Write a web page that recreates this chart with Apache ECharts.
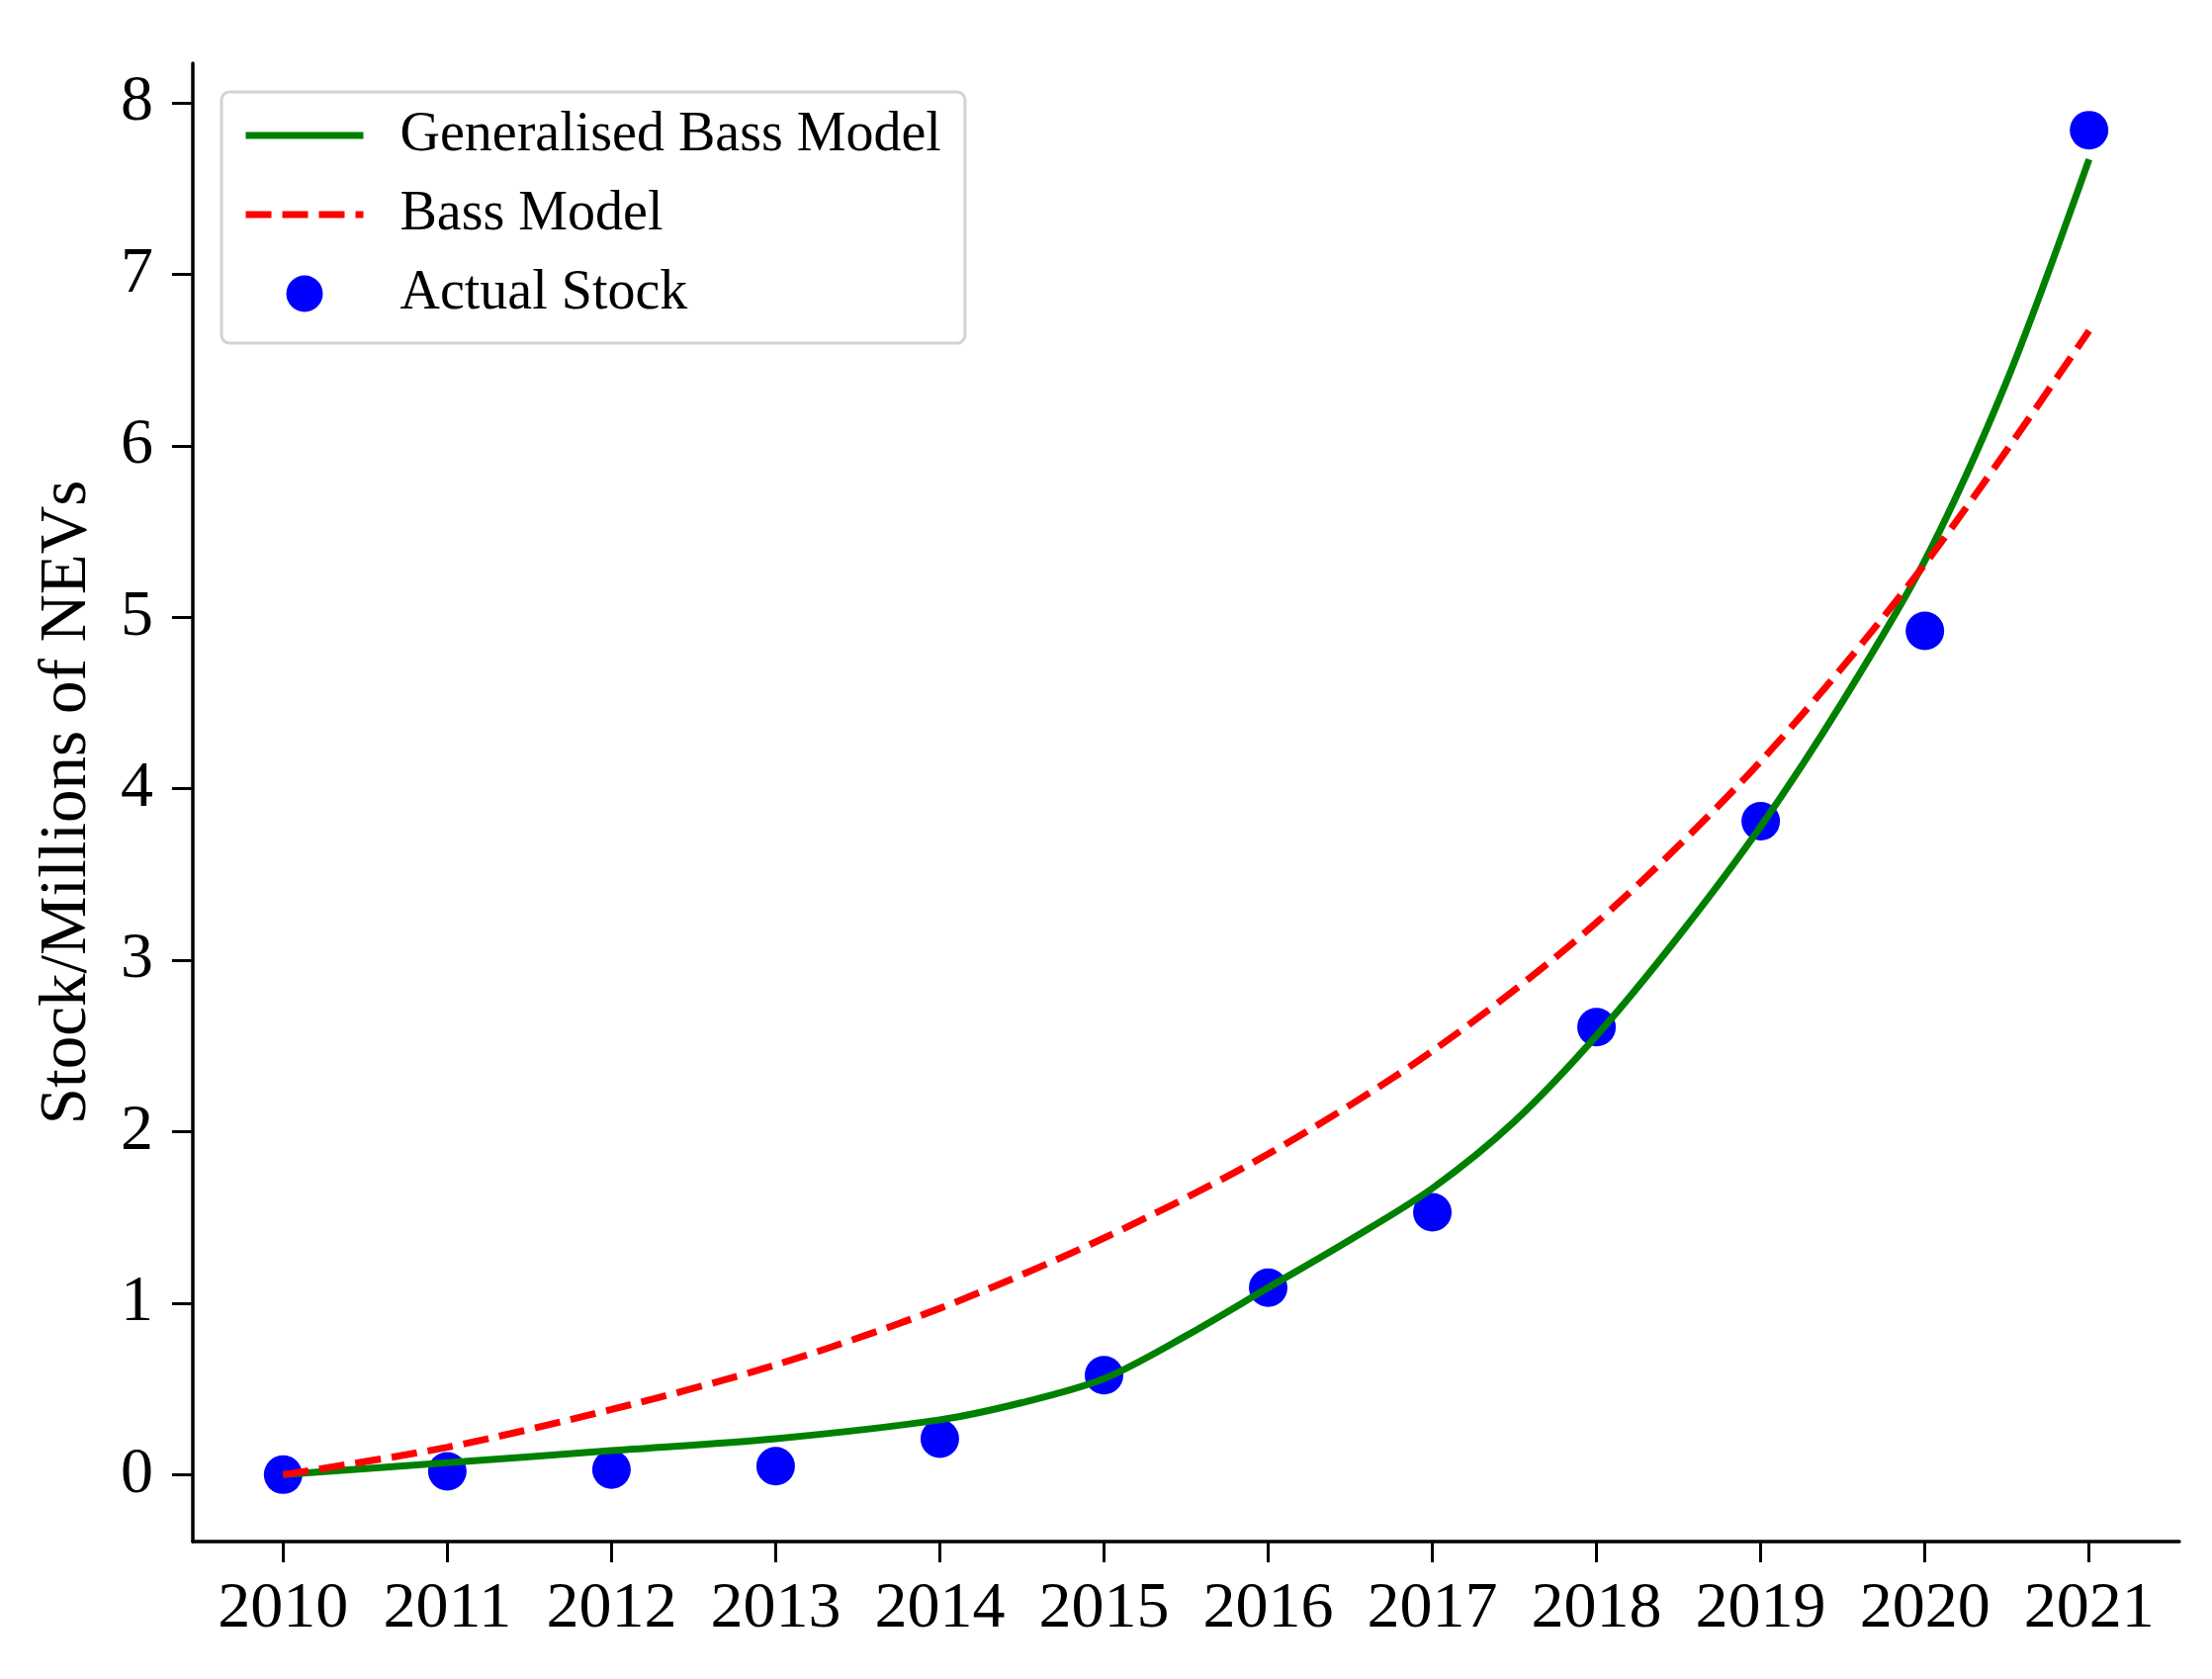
<!DOCTYPE html>
<html>
<head>
<meta charset="utf-8">
<script src="https://cdn.jsdelivr.net/npm/echarts@6/dist/echarts.min.js"></script>
<style>html,body{margin:0;padding:0;background:#fff}#c{width:2237px;height:1698px}</style>
</head>
<body>
<div id="c"></div>
<script>
// Data
const years = [2010, 2011, 2012, 2013, 2014, 2015, 2016, 2017, 2018, 2019, 2020, 2021];
const actualStock = [0.00, 0.02, 0.03, 0.05, 0.21, 0.58, 1.09, 1.53, 2.61, 3.81, 4.92, 7.84];
const bassModel = [0.00, 0.16, 0.38, 0.64, 0.97, 1.38, 1.87, 2.47, 3.22, 4.16, 5.31, 6.67];
const gbmYears = [2010, 2011, 2012, 2013, 2014, 2014.5, 2015, 2015.5, 2016, 2016.5, 2017, 2017.5, 2018, 2018.5, 2019, 2019.5, 2020, 2020.5, 2021];
const gbmModel = [0.00, 0.07, 0.14, 0.21, 0.32, 0.42, 0.56, 0.81, 1.09, 1.37, 1.67, 2.06, 2.56, 3.14, 3.78, 4.51, 5.33, 6.38, 7.67];
const yTicks = [0, 1, 2, 3, 4, 5, 6, 7, 8];
const seriesNames = ['Generalised Bass Model', 'Bass Model', 'Actual Stock'];
const yTitle = 'Stock/Millions of NEVs';

const zip = (xs, ys) => xs.map((x, i) => [x, ys[i]]);
const FONT = 'Liberation Serif';

const chart = echarts.init(document.getElementById('c'), null, {renderer: 'canvas'});
chart.setOption({
  backgroundColor: '#ffffff',
  animation: false,
  grid: {left: 195, right: 33, top: 64, bottom: 139, containLabel: false, outerBoundsMode: 'none'},
  legend: {
    data: [
      {name: seriesNames[0], itemStyle: {opacity: 0}, lineStyle: {width: 7, color: '#008000'}},
      {name: seriesNames[1], itemStyle: {opacity: 0}, lineStyle: {width: 7, color: '#ff0000', type: [26, 11]}},
      {name: seriesNames[2]}
    ],
    orient: 'vertical',
    left: 224,
    top: 93,
    padding: [16, 24, 22, 21],
    itemWidth: 119,
    itemHeight: 37,
    itemGap: 24,
    backgroundColor: '#ffffff',
    borderColor: '#d3d3d3',
    borderWidth: 3,
    borderRadius: 8,
    textStyle: {fontFamily: FONT, fontSize: 56, color: '#000', lineHeight: 56, padding: [0, 0, 0, 32]}
  },
  xAxis: {
    type: 'value',
    min: 2009.45,
    max: 2021.55,
    axisLine: {show: true, onZero: false, lineStyle: {color: '#000', width: 3.5}},
    axisTick: {show: true, length: 21, lineStyle: {color: '#000', width: 3}, customValues: years},
    axisLabel: {fontFamily: FONT, fontSize: 66, color: '#000', margin: 36, customValues: years, formatter: v => String(v)},
    splitLine: {show: false}
  },
  yAxis: {
    type: 'value',
    min: -0.39,
    max: 8.23,
    name: yTitle,
    nameLocation: 'middle',
    nameGap: 93,
    nameTextStyle: {fontFamily: FONT, fontSize: 67, color: '#000'},
    axisLine: {show: true, onZero: false, lineStyle: {color: '#000', width: 3.5}},
    axisTick: {show: true, length: 21, lineStyle: {color: '#000', width: 3}, customValues: yTicks},
    axisLabel: {fontFamily: FONT, fontSize: 66, color: '#000', margin: 40, customValues: yTicks, formatter: v => String(v)},
    splitLine: {show: false}
  },
  series: [
    {
      name: seriesNames[0],
      type: 'line',
      data: zip(gbmYears, gbmModel),
      smooth: 0.3,
      symbol: 'none',
      z: 3,
      lineStyle: {color: '#008000', width: 7},
      itemStyle: {color: '#008000'}
    },
    {
      name: seriesNames[1],
      type: 'line',
      data: zip(years, bassModel),
      smooth: 0.3,
      symbol: 'none',
      z: 4,
      lineStyle: {color: '#ff0000', width: 7, type: [26, 11]},
      itemStyle: {color: '#ff0000'}
    },
    {
      name: seriesNames[2],
      type: 'scatter',
      data: zip(years, actualStock),
      symbol: 'circle',
      symbolSize: 39,
      z: 2,
      itemStyle: {color: '#0000ff', opacity: 1}
    }
  ]
});
</script>
</body>
</html>
